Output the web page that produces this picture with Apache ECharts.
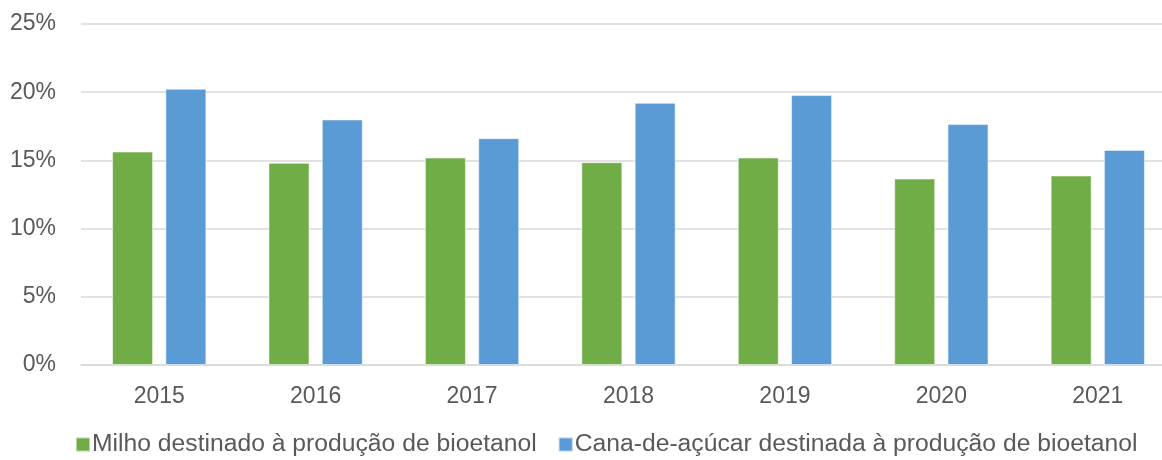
<!DOCTYPE html>
<html><head><meta charset="utf-8">
<script src="https://cdn.jsdelivr.net/npm/echarts@6/dist/echarts.min.js"></script>
<style>html,body{margin:0;padding:0;background:#fff}#c{width:1162px;height:460px}</style>
</head><body><div id="c"></div>
<script>
const categories = ['2015','2016','2017','2018','2019','2020','2021'];
const milho = [15.65, 14.82, 15.21, 14.87, 15.21, 13.67, 13.89];
const cana = [20.25, 18.0, 16.63, 19.22, 19.79, 17.66, 15.77];
const seriesNames = ['Milho destinado à produção de bioetanol','Cana-de-açúcar destinada à produção de bioetanol'];
const colors = ['#70AD47','#5B9BD5'];
const txt = '#595959';
const font = 'Liberation Sans';
const chart = echarts.init(document.getElementById('c'));
chart.setOption({
  animation:false,
  color:colors,
  grid:{left:81,width:1095,top:24,bottom:95,containLabel:false,outerBoundsMode:'none'},
  legend:{bottom:-2,left:70,itemWidth:14,itemHeight:14,itemGap:21,icon:'rect',
    textStyle:{color:txt,fontSize:24.7,fontFamily:font,padding:[0,0,0,-3]}},
  xAxis:{type:'category',data:categories,axisTick:{show:false},
    axisLine:{lineStyle:{color:'#d9d9d9',width:1.5}},
    axisLabel:{color:txt,fontSize:23,fontFamily:font,margin:20}},
  yAxis:{type:'value',min:0,max:25,interval:5,
    axisLabel:{color:txt,fontSize:23,fontFamily:font,margin:25,formatter:'{value}%'},
    splitLine:{lineStyle:{color:'#d9d9d9',width:1.5}},axisLine:{show:false},axisTick:{show:false}},
  series:[
    {name:seriesNames[0],type:'bar',data:milho,barWidth:41,barGap:'30%',itemStyle:{borderColor:'rgba(255,255,255,0.5)',borderWidth:1}},
    {name:seriesNames[1],type:'bar',data:cana,barWidth:41,barGap:'30%',itemStyle:{borderColor:'rgba(255,255,255,0.5)',borderWidth:1}}
  ]
});
</script></body></html>
